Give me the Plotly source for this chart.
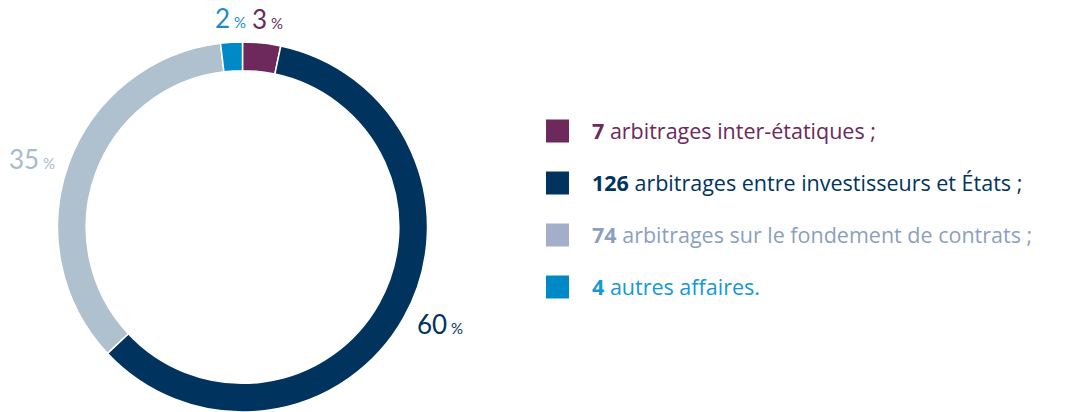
import math
import plotly.graph_objects as go

# === data ===
counts = [7, 126, 74, 4]
numbers = ["7", "126", "74", "4"]
labels = [
    "arbitrages inter-étatiques ;",
    "arbitrages entre investisseurs et États ;",
    "arbitrages sur le fondement de contrats ;",
    "autres affaires.",
]
slice_colors = ["#6d295b", "#00345f", "#afc0ce", "#0089c7"]
square_colors = ["#6d295b", "#00345f", "#a3afc9", "#0089c7"]
text_colors = ["#6d295b", "#00345f", "#8c9fbf", "#1499d6"]
pct_colors = ["#6d295b", "#00345f", "#a9bbca", "#1a8dc6"]

W, H = 1075, 412
PCT_FONT = "Lato, 'Open Sans', sans-serif"
LEG_FONT = "'Open Sans', 'Noto Sans', sans-serif"

# pie placement (pixels)
cx, cy, R = 242.5, 227, 185

fig = go.Figure()

fig.add_trace(go.Pie(
    values=counts,
    sort=False,
    direction="clockwise",
    rotation=0,
    hole=0.845,
    textinfo="none",
    hoverinfo="skip",
    showlegend=False,
    marker=dict(colors=slice_colors, line=dict(color="white", width=1.5)),
    domain=dict(x=[(cx - R) / W, (cx + R) / W], y=[(H - cy - R) / H, (H - cy + R) / H]),
))

# percent labels placed around the ring from the slice angles
total = sum(counts)
acc = 0
annotations = []
for v, col in zip(counts, pct_colors):
    mid = (acc + v / 2) / total * 2 * math.pi
    acc += v
    s, c = math.sin(mid), math.cos(mid)
    r = R * 1.07
    px, py = cx + r * s, cy - r * c
    xa = "left" if s > 0.4 else ("right" if s < -0.4 else "center")
    ya = "bottom" if c > 0.6 else ("top" if c < -0.6 else "middle")
    pct = round(v / total * 100)
    annotations.append(dict(
        x=px / W, y=1 - py / H, xref="paper", yref="paper",
        xanchor=xa, yanchor=ya, showarrow=False,
        yshift=-7 if ya == "bottom" else 0,
        xshift=4 if s > 0.05 and xa == "center" else 0,
        text=f"{pct}<span style='font-size:15px'> %</span>",
        font=dict(family=PCT_FONT, size=26, color=col),
    ))

# legend: squares on a hidden axis
idx = list(range(len(counts)))
fig.add_trace(go.Scatter(
    x=[0] * len(counts), y=idx, mode="markers",
    marker=dict(symbol="square", size=23, color=square_colors, line=dict(width=0)),
    hoverinfo="skip", showlegend=False, xaxis="x", yaxis="y",
))
for i, (n, lab, col) in enumerate(zip(numbers, labels, text_colors)):
    annotations.append(dict(
        x=1, y=i, xref="x", yref="y", xanchor="left", yanchor="middle",
        showarrow=False, text=f"<b>{n}</b> {lab}",
        font=dict(family=LEG_FONT, size=21.5, color=col),
    ))

fig.update_layout(
    width=W, height=H,
    margin=dict(l=0, r=0, t=0, b=0),
    paper_bgcolor="white", plot_bgcolor="white",
    xaxis=dict(domain=[0.5, 1], range=[-0.615, 15.92], visible=False, fixedrange=True),
    yaxis=dict(domain=[0, 1], range=[5.404, -2.519], visible=False, fixedrange=True),
    annotations=annotations,
    showlegend=False,
)

fig.write_html("out.html", config={"displayModeBar": False},
               post_script="document.body.style.margin='0px';")
